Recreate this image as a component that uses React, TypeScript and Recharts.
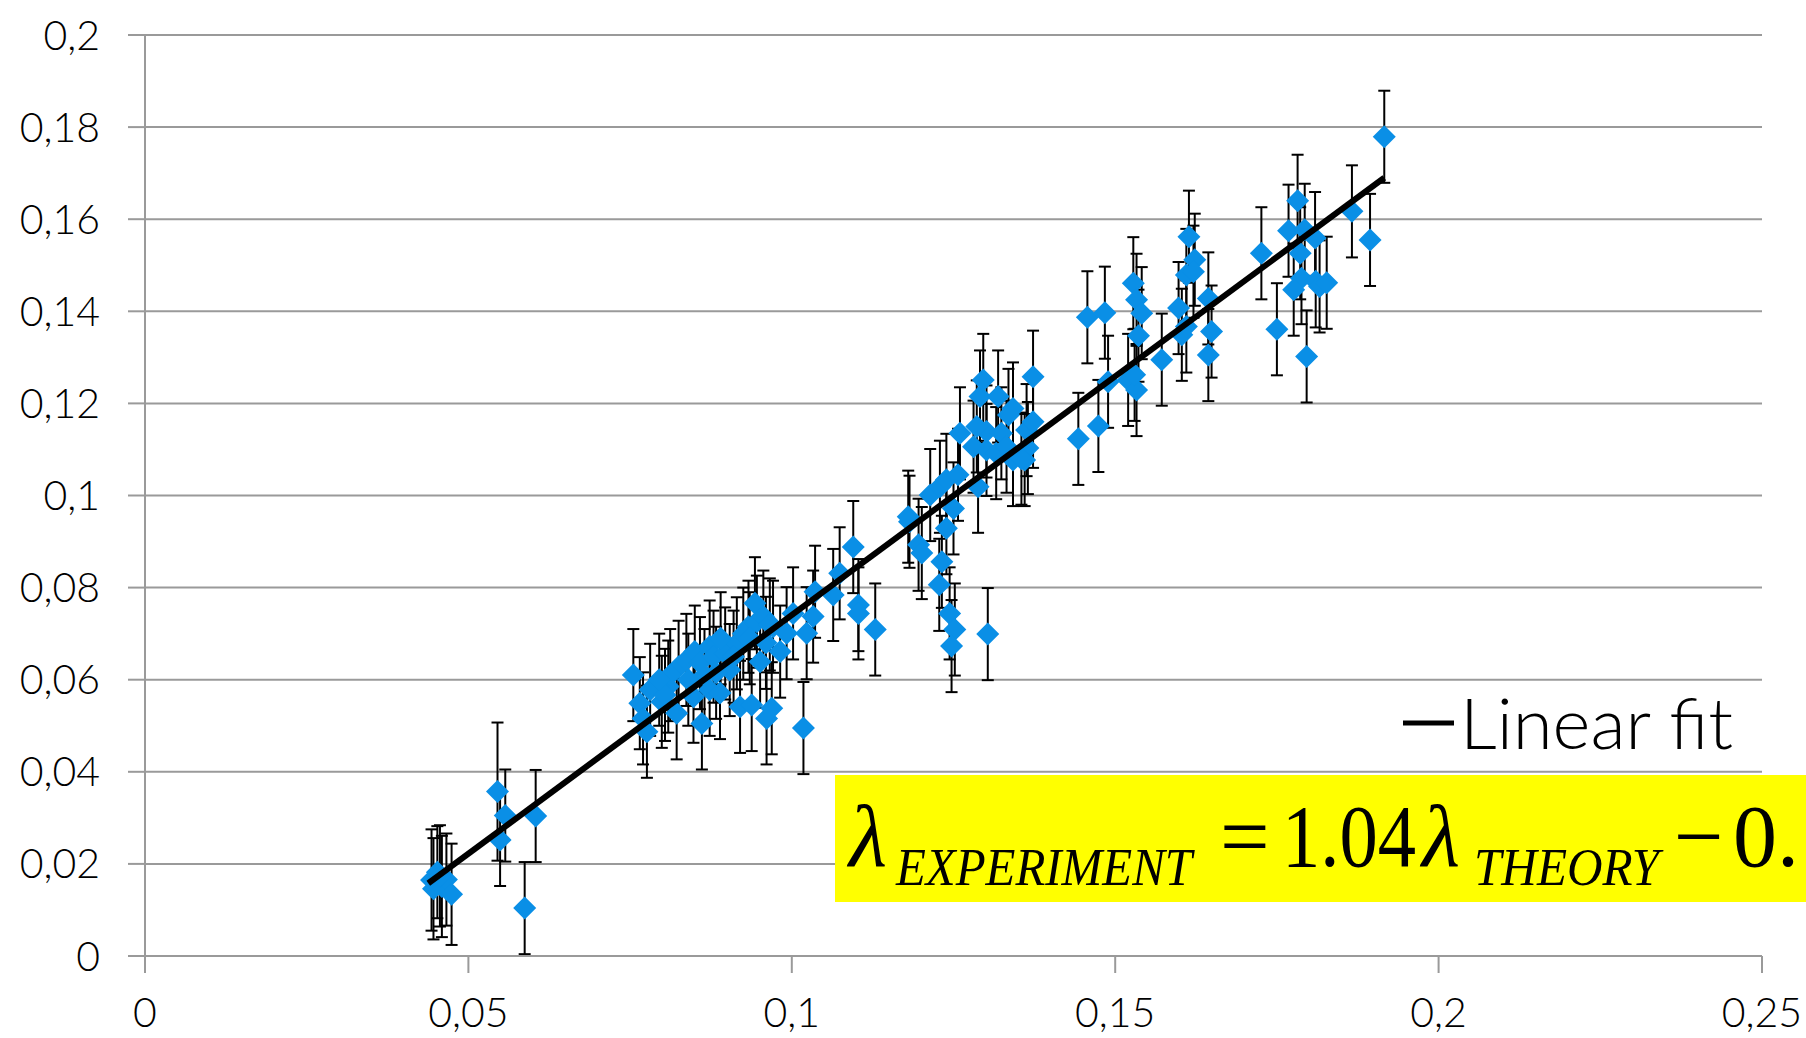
import { ScatterChart, Scatter, XAxis, YAxis, CartesianGrid, ErrorBar } from 'recharts';

// lambda theory (x), lambda experiment (y), error (+/-)
const lambdaTheory = [
  0.0443, 0.0452, 0.0446, 0.0459, 0.0466, 0.0474, 0.0456, 0.0545, 0.0549, 0.0557, 0.0604, 0.0587,
  0.0755, 0.0781, 0.0765, 0.077, 0.0776, 0.0799, 0.0809, 0.0825, 0.0822, 0.0837, 0.085, 0.0858,
  0.0848, 0.0861, 0.0873, 0.0879, 0.0873, 0.0889, 0.0897, 0.0904, 0.0915, 0.092, 0.0933, 0.0938,
  0.0943, 0.0946, 0.0951, 0.0956, 0.0961, 0.0969, 0.0971, 0.0982, 0.0992, 0.1002, 0.1018, 0.1023,
  0.1036, 0.1033, 0.1064, 0.1074, 0.1095, 0.1103, 0.1103, 0.1129,
  0.0804, 0.0883, 0.091, 0.0925, 0.089, 0.0865, 0.084, 0.0812, 0.0795, 0.096, 0.0935, 0.0966,
  0.118, 0.1182, 0.1196, 0.1201, 0.1214, 0.1229, 0.1239, 0.1257, 0.125, 0.1239, 0.1232, 0.1228,
  0.1244, 0.1252, 0.1247, 0.1303, 0.1288, 0.1281, 0.1301, 0.1316, 0.1342, 0.136, 0.1365, 0.126,
  0.1291, 0.1296, 0.1301, 0.1319, 0.1324, 0.1332, 0.1342, 0.1363, 0.1373, 0.1373, 0.1335, 0.1355,
  0.1286,
  0.1443, 0.1474, 0.1489, 0.1457, 0.1484, 0.152, 0.1533, 0.1528, 0.1533, 0.1541, 0.1536, 0.153,
  0.1572, 0.1598, 0.1603, 0.161, 0.161, 0.1623, 0.1621, 0.1614, 0.1644, 0.1649, 0.1644, 0.1726,
  0.175, 0.1768, 0.1782, 0.1793, 0.1809, 0.1786, 0.1788, 0.1776, 0.181, 0.1816, 0.1827, 0.1796,
  0.1866, 0.1894, 0.1916,
];

const lambdaExperiment = [
  0.0165, 0.0182, 0.0146, 0.0151, 0.0166, 0.0134, 0.0174, 0.0357, 0.0252, 0.0305, 0.0304, 0.0104,
  0.061, 0.0578, 0.0549, 0.0516, 0.0487, 0.0552, 0.0585, 0.0628, 0.0527, 0.0643, 0.0661, 0.0636,
  0.0563, 0.0505, 0.0672, 0.065, 0.0578, 0.0571, 0.0657, 0.0621, 0.0679, 0.0541, 0.0715, 0.0545,
  0.0766, 0.0726, 0.0639, 0.0737, 0.0516, 0.0538, 0.0715, 0.0661, 0.0701, 0.0744, 0.0495, 0.0701,
  0.0791, 0.0737, 0.0784, 0.0831, 0.0888, 0.0762, 0.0744, 0.0709,
  0.0567, 0.0615, 0.065, 0.07, 0.069, 0.061, 0.06, 0.061, 0.06, 0.068, 0.069, 0.072,
  0.0954, 0.0943, 0.0893, 0.0875, 0.1001, 0.1019, 0.1034, 0.1045, 0.0972, 0.0929, 0.0856, 0.0806,
  0.0744, 0.0709, 0.0673, 0.0699, 0.1019, 0.1106, 0.1099, 0.1092, 0.1077, 0.1077, 0.1103, 0.1135,
  0.1215, 0.1251, 0.1139, 0.1215, 0.1135, 0.1106, 0.1189, 0.1142, 0.116, 0.1258, 0.1175, 0.108,
  0.115,
  0.1123, 0.1151, 0.1247, 0.1387, 0.1397, 0.1251, 0.1229, 0.1461, 0.1425, 0.1396, 0.1347, 0.1262,
  0.1295, 0.1407, 0.1349, 0.1367, 0.1479, 0.1512, 0.1486, 0.1562, 0.1428, 0.1356, 0.1305, 0.1526,
  0.1361, 0.1575, 0.164, 0.1577, 0.1559, 0.1526, 0.1472, 0.1447, 0.1465, 0.1454, 0.1462, 0.1302,
  0.1617, 0.1555, 0.1779,
];

const errorLeft = [0.011, 0.01, 0.011, 0.011, 0.01, 0.011, 0.011, 0.015, 0.01, 0.01, 0.01, 0.01];

const fitTheory = [0.0438, 0.1916];
const fitExperiment = [0.0158, 0.169];

const xTicks = [0, 0.05, 0.1, 0.15, 0.2, 0.25];
const yTicks = [0, 0.02, 0.04, 0.06, 0.08, 0.1, 0.12, 0.14, 0.16, 0.18, 0.2];

const points = lambdaTheory.map((x, i) => ({
  x,
  y: lambdaExperiment[i],
  err: i < errorLeft.length ? errorLeft[i] : 0.01,
}));
const fit = fitTheory.map((x, i) => ({ x, y: fitExperiment[i] }));

const tickFont = { fontFamily: 'Lato, "Open Sans", sans-serif', fontSize: 41, fontWeight: 300, fill: '#000' };
const comma = (v: number) => String(v).replace('.', ',');

const Diamond = (props: any) => {
  const { cx, cy } = props;
  if (cx == null || cy == null) return <g />;
  const r = 11.5;
  return <path d={`M${cx},${cy - r}L${cx + r},${cy}L${cx},${cy + r}L${cx - r},${cy}Z`} fill="#0A8FE6" />;
};

export default function App() {
  return (
    <div style={{ position: 'relative', width: 1806, height: 1038, overflow: 'hidden', background: '#fff' }}>
      <style>{'body{margin:0}'}</style>
      <ScatterChart width={1806} height={1038} margin={{ top: 35, right: 44, bottom: 0, left: 8 }}>
        <CartesianGrid vertical={false} stroke="#9a9a9a" strokeWidth={2} />
        <XAxis type="number" dataKey="x" domain={[0, 0.25]} ticks={xTicks} tickFormatter={comma}
          height={82} tickSize={17} tickMargin={25} tick={tickFont}
          axisLine={{ stroke: '#9a9a9a', strokeWidth: 2 }} tickLine={{ stroke: '#9a9a9a', strokeWidth: 2 }} />
        <YAxis type="number" dataKey="y" domain={[0, 0.2]} ticks={yTicks} tickFormatter={comma}
          width={137} tickSize={17} tickMargin={28} tick={tickFont}
          axisLine={{ stroke: '#9a9a9a', strokeWidth: 2 }} tickLine={{ stroke: '#9a9a9a', strokeWidth: 2 }} />
        <Scatter name="data" data={points} shape={Diamond} isAnimationActive={false} legendType="none">
          <ErrorBar dataKey="err" direction="y" width={6} stroke="#000" strokeWidth={2} />
        </Scatter>
        <Scatter name="Linear fit" data={fit} shape={() => <g />} line={{ stroke: '#000', strokeWidth: 6 }}
          isAnimationActive={false} />
      </ScatterChart>
      <svg width={1806} height={1038} style={{ position: 'absolute', left: 0, top: 0, pointerEvents: 'none' }}>
        {/* legend */}
        <line x1={1403} y1={723} x2={1454} y2={723} stroke="#000" strokeWidth={5} />
        <text x={1460} y={749} fontFamily='Lato, "Open Sans", sans-serif' fontWeight={300} fontSize={70}
          textLength={273} lengthAdjust="spacingAndGlyphs" fill="#000">Linear fit</text>
        {/* fit equation */}
        <rect x={835} y={775} width={980} height={127} fill="#ffff00" />
        <g fontFamily='"Liberation Serif", "Times New Roman", serif' fill="#000">
          <text x={849} y={866} fontSize={88} fontStyle="italic">λ</text>
          <text x={896} y={885} fontSize={53} fontStyle="italic" textLength={296} lengthAdjust="spacingAndGlyphs">EXPERIMENT</text>
          <text x={1220} y={866} fontSize={88}>=</text>
          <text x={1282} y={866} fontSize={88} textLength={134} lengthAdjust="spacingAndGlyphs">1.04</text>
          <text x={1422} y={866} fontSize={88} fontStyle="italic">λ</text>
          <text x={1474} y={885} fontSize={53} fontStyle="italic" textLength={185} lengthAdjust="spacingAndGlyphs">THEORY</text>
          <text x={1674} y={866} fontSize={88}>−</text>
          <text x={1733} y={866} fontSize={88}>0.</text>
        </g>
      </svg>
    </div>
  );
}
